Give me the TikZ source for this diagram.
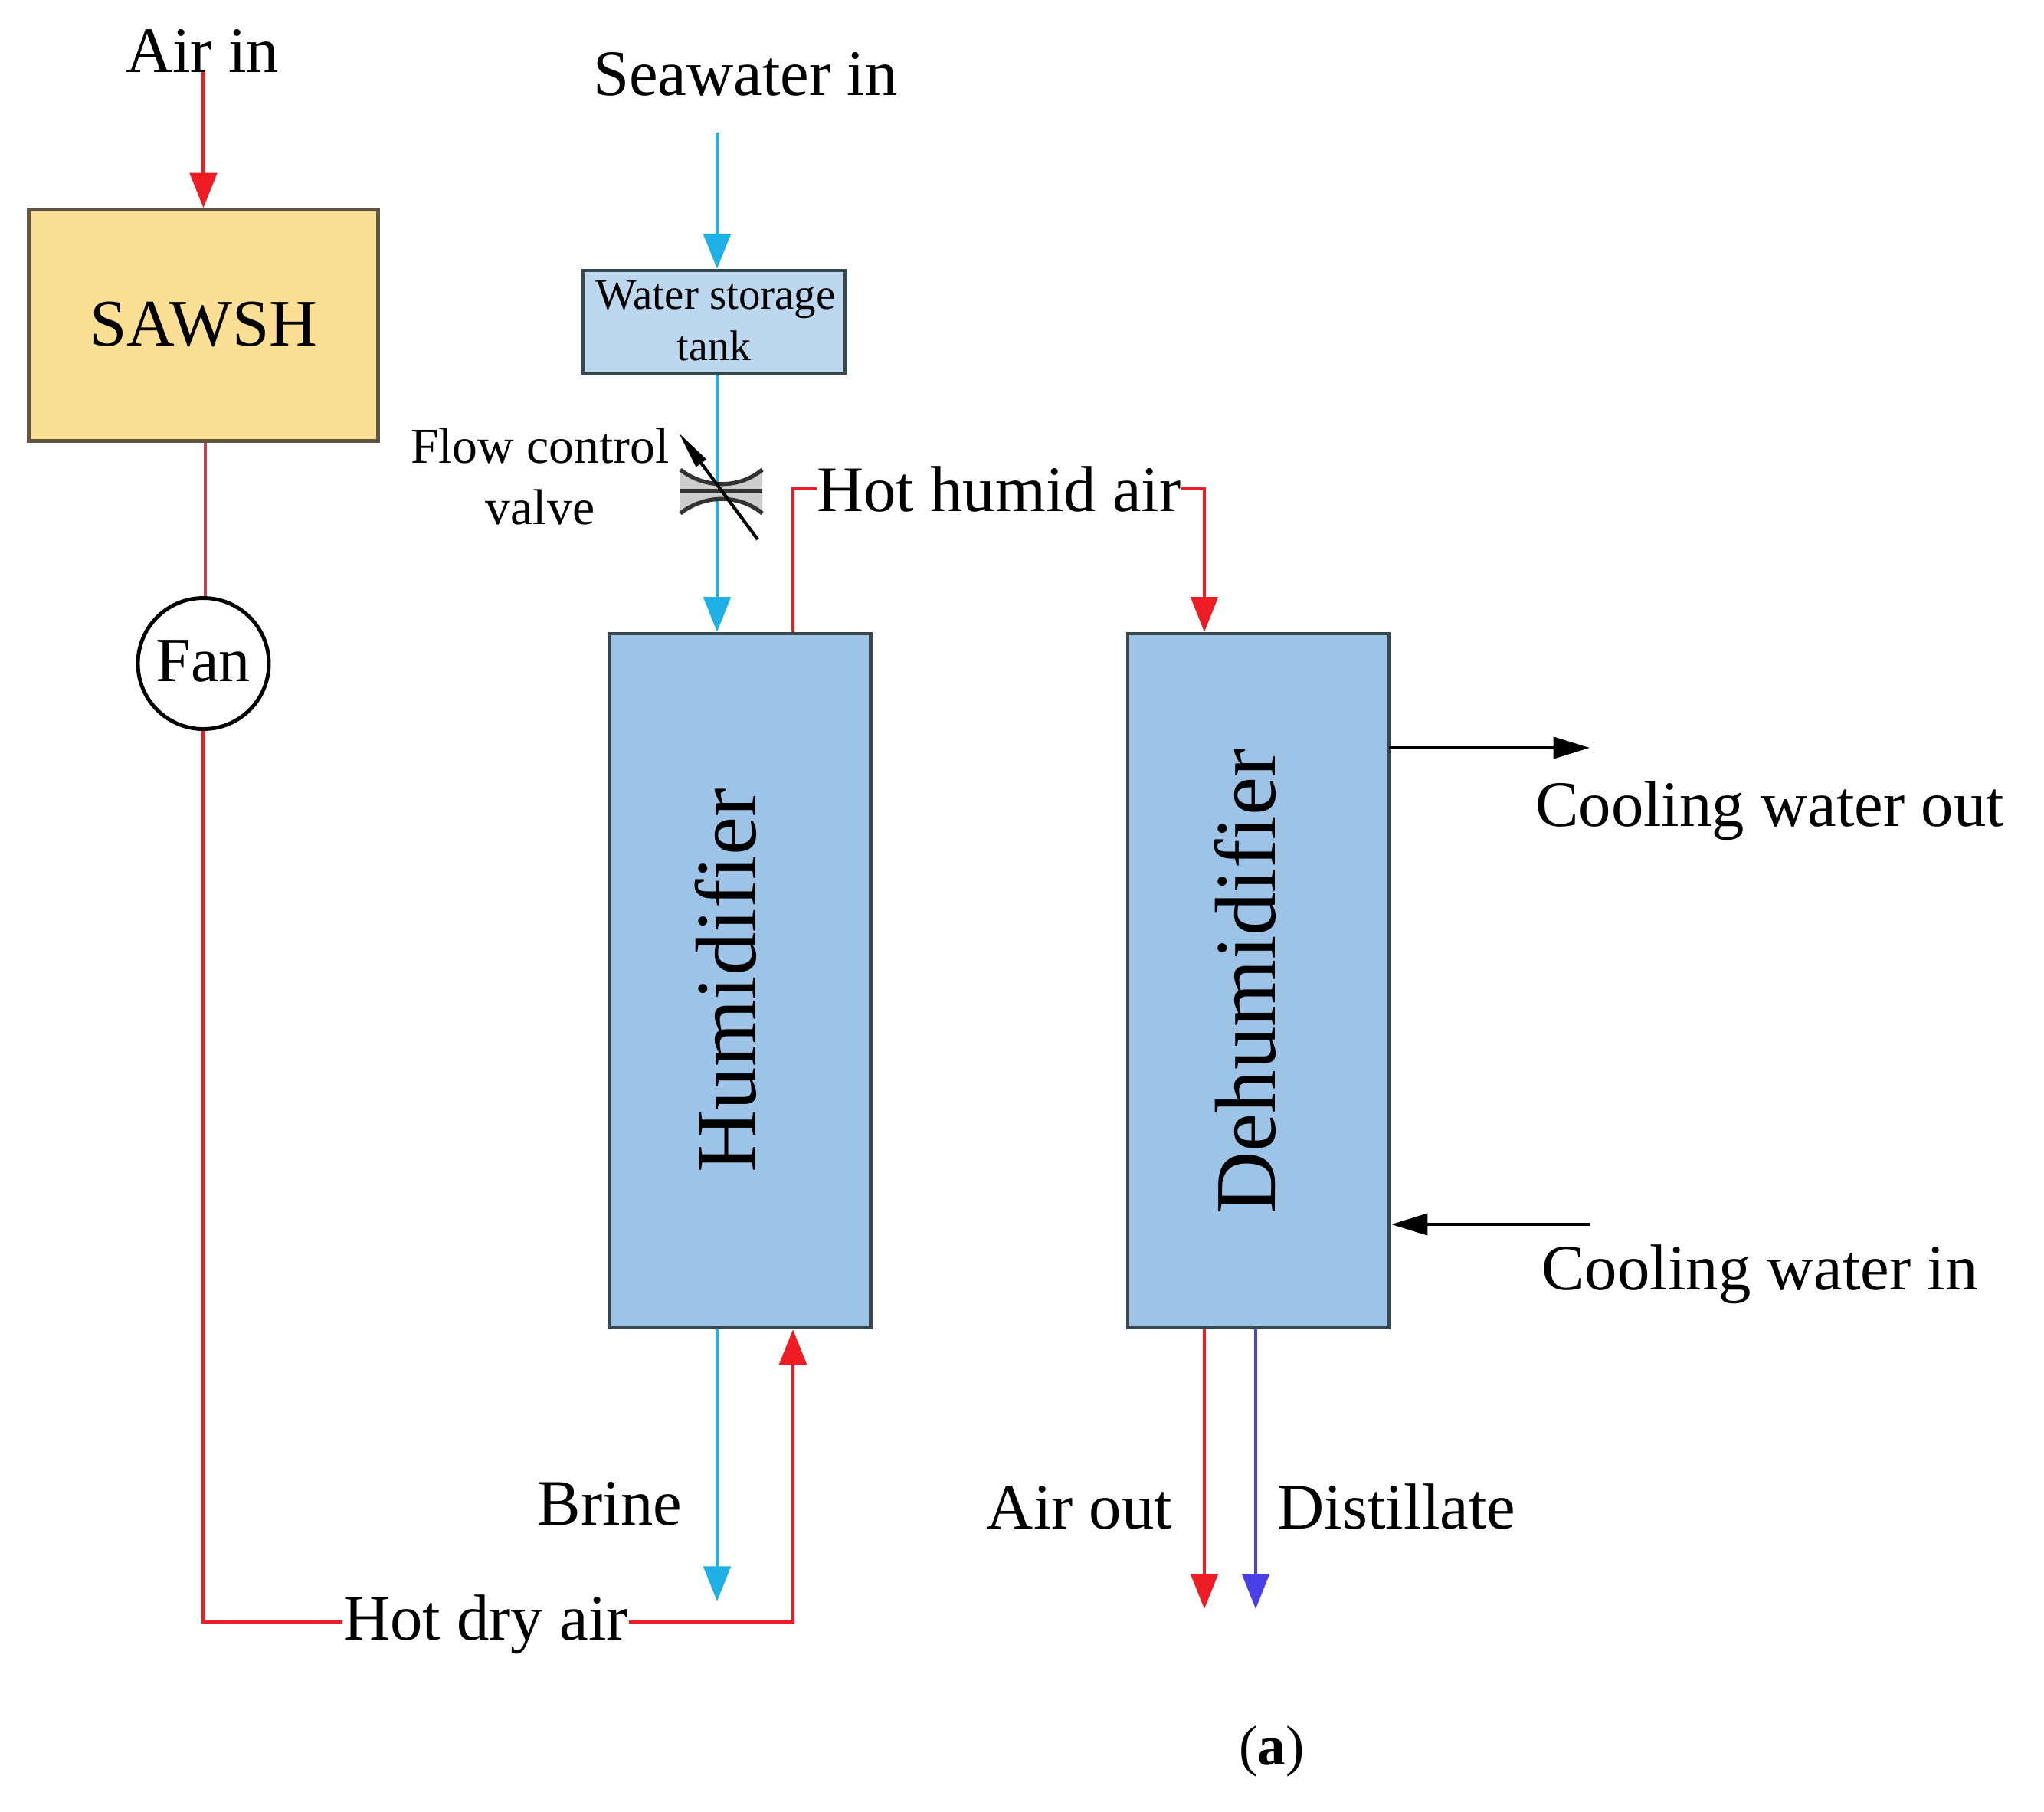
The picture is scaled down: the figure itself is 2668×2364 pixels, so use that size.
\documentclass[tikz,border=0pt]{standalone}
\usepackage{fontspec}
\setmainfont{Liberation Serif}
\usetikzlibrary{arrows.meta,calc}
\definecolor{redline}{HTML}{EE1C25}
\definecolor{dullred}{HTML}{C8404A}
\definecolor{cyanline}{HTML}{1FB0E6}
\definecolor{violetline}{HTML}{4A3FE6}
\definecolor{boxblue}{HTML}{9DC3E6}
\definecolor{tankblue}{HTML}{BDD7EE}
\definecolor{boxyellow}{HTML}{FBDF94}
\definecolor{edgegrey}{HTML}{37474F}
\definecolor{edgebrown}{HTML}{5E5542}
\definecolor{valvegrey}{HTML}{CDCDCD}
\tikzset{
  tip/.style={-{Triangle[width=10pt,length=13pt]}},
  redflow/.style={draw=redline,line width=1.35pt,line join=miter},
  cyanflow/.style={draw=cyanline,line width=1.35pt,tip},
  blackflow/.style={draw=black,line width=1.1pt,-{Triangle[width=8pt,length=13.5pt]}},
  label/.style={inner sep=0pt,anchor=base,font=\fontsize{24.1}{29}\selectfont},
  unit/.style={draw=edgegrey,fill=boxblue,line width=1.2pt,inner sep=0pt,minimum width=34.1mm,minimum height=90.6mm},
  bigtext/.style={inner sep=0pt,anchor=base,rotate=90,font=\fontsize{32.1}{38}\selectfont},
  smalltext/.style={inner sep=0pt,anchor=base,font=\fontsize{18.7}{22}\selectfont}
}
\begin{document}
\begin{tikzpicture}[x=0.1mm,y=-0.1mm]
\path[use as bounding box,fill=white] (0,0) rectangle (2668,2364);
% equipment
\node[draw=edgebrown,fill=boxyellow,line width=1.2pt,inner sep=0pt,minimum width=45.6mm,minimum height=30.2mm] (sawsh) at (265.5,424.5) {};
\node[draw=edgegrey,fill=tankblue,line width=1.2pt,inner sep=0pt,minimum width=34.2mm,minimum height=13.4mm] (tank) at (932,420) {};
\node[unit] (hum) at (966,1280) {};
\node[unit] (dehum) at (1642.5,1280) {};
\node[draw=black,fill=white,line width=1.4pt,circle,inner sep=0pt,minimum size=17.1mm] (fan) at (265.5,866) {};
% box texts
\node[label,font=\fontsize{24.7}{29}\selectfont] (sawshtext) at (266,451) {SAWSH};
\node[inner sep=0pt,anchor=base,font=\fontsize{16.2}{19}\selectfont] (tank1) at (934,403) {Water storage};
\node[inner sep=0pt,anchor=base,font=\fontsize{15.9}{19}\selectfont] (tank2) at (932,470) {tank};
\node[label,font=\fontsize{23.4}{28}\selectfont] (fantext) at (265,889) {Fan};
\node[bigtext] (humtext) at (986,1280) {Humidifier};
\node[bigtext] (dehumtext) at (1664,1281) {Dehumidifier};
% labels
\node[label] (airin) at (264,94) {Air in};
\node[label] (seain) at (973,124) {Seawater in};
\node[smalltext] (flow1) at (705,604) {Flow control};
\node[smalltext] (flow2) at (705,684) {valve};
\node[label] (hothumid) at (1304,667) {Hot humid air};
\node[label] (hotdry) at (634,2140) {Hot dry air};
\node[label] (brine) at (796,1990) {Brine};
\node[label] (airout) at (1409,1995) {Air out};
\node[label] (distillate) at (1823,1995) {Distillate};
\node[label] (cwout) at (2310,1078) {Cooling water out};
\node[label] (cwin) at (2297,1683) {Cooling water in};
\node[inner sep=0pt,anchor=base,font=\fontsize{20.8}{25}\selectfont] (sub) at (1660,2303) {(\textbf{a})};
% free ends and bends
\coordinate (airstart) at (265.5,94);
\coordinate (fanline) at (268,700);
\coordinate (seastart) at (936,173);
\coordinate (brineend) at (936,2090);
\coordinate (dryturn) at (265.5,2117);
\coordinate (dryrise) at (1035,2117);
\coordinate (humidturn) at (1035,638);
\coordinate (dehumturn) at (1572,638);
\coordinate (airoutend) at (1572,2100);
\coordinate (distend) at (1639,2100);
\coordinate (cwoutstart) at (1813,976);
\coordinate (cwoutend) at (2075,976);
\coordinate (cwinstart) at (2075,1598);
\coordinate (cwinend) at (1816,1598);
% air path
\draw[redflow,tip] (airstart) -- (airstart |- sawsh.north);
\draw[draw=dullred,line width=1.35pt] (sawsh.south -| fanline) -- (fan.north -| fanline);
\draw[redflow] (fan.south -| dryturn) -- (dryturn) -- (dryturn -| hotdry.west);
\draw[redflow,tip] (dryturn -| hotdry.east) -- (dryrise) -- (dryrise |- hum.south);
\draw[redflow] (hum.north -| humidturn) -- (humidturn) -- (humidturn -| hothumid.west);
\draw[redflow,tip] (humidturn -| hothumid.east) -- (dehumturn) -- (dehumturn |- dehum.north);
\draw[redflow,tip] (dehum.south -| airoutend) -- (airoutend);
% water path
\draw[cyanflow] (seastart) -- (seastart |- tank.north);
\draw[cyanflow] (tank.south -| seastart) -- (seastart |- hum.north);
\draw[cyanflow] (hum.south -| brineend) -- (brineend);
\draw[draw=violetline,line width=1.35pt,tip] (dehum.south -| distend) -- (distend);
% cooling water
\draw[blackflow] (cwoutstart) -- (cwoutend);
\draw[blackflow] (cwinstart) -- (cwinend);
% valve
\fill[valvegrey] (888,613) .. controls (920,638) and (965,638) .. (995,613) -- (995,670) .. controls (965,645) and (920,645) .. (888,670) -- cycle;
\draw[draw=black!80,line width=1.5pt] (888,613) .. controls (920,638) and (965,638) .. (995,613);
\draw[draw=black!80,line width=1.5pt] (888,670) .. controls (920,645) and (965,645) .. (995,670);
\draw[draw=black!80,line width=1.5pt] (888,641) -- (995,641);
\draw[draw=black,line width=1.2pt,-{Triangle[width=4.5pt,length=14pt]}] (989,704) -- (886,565);
\end{tikzpicture}
\end{document}
